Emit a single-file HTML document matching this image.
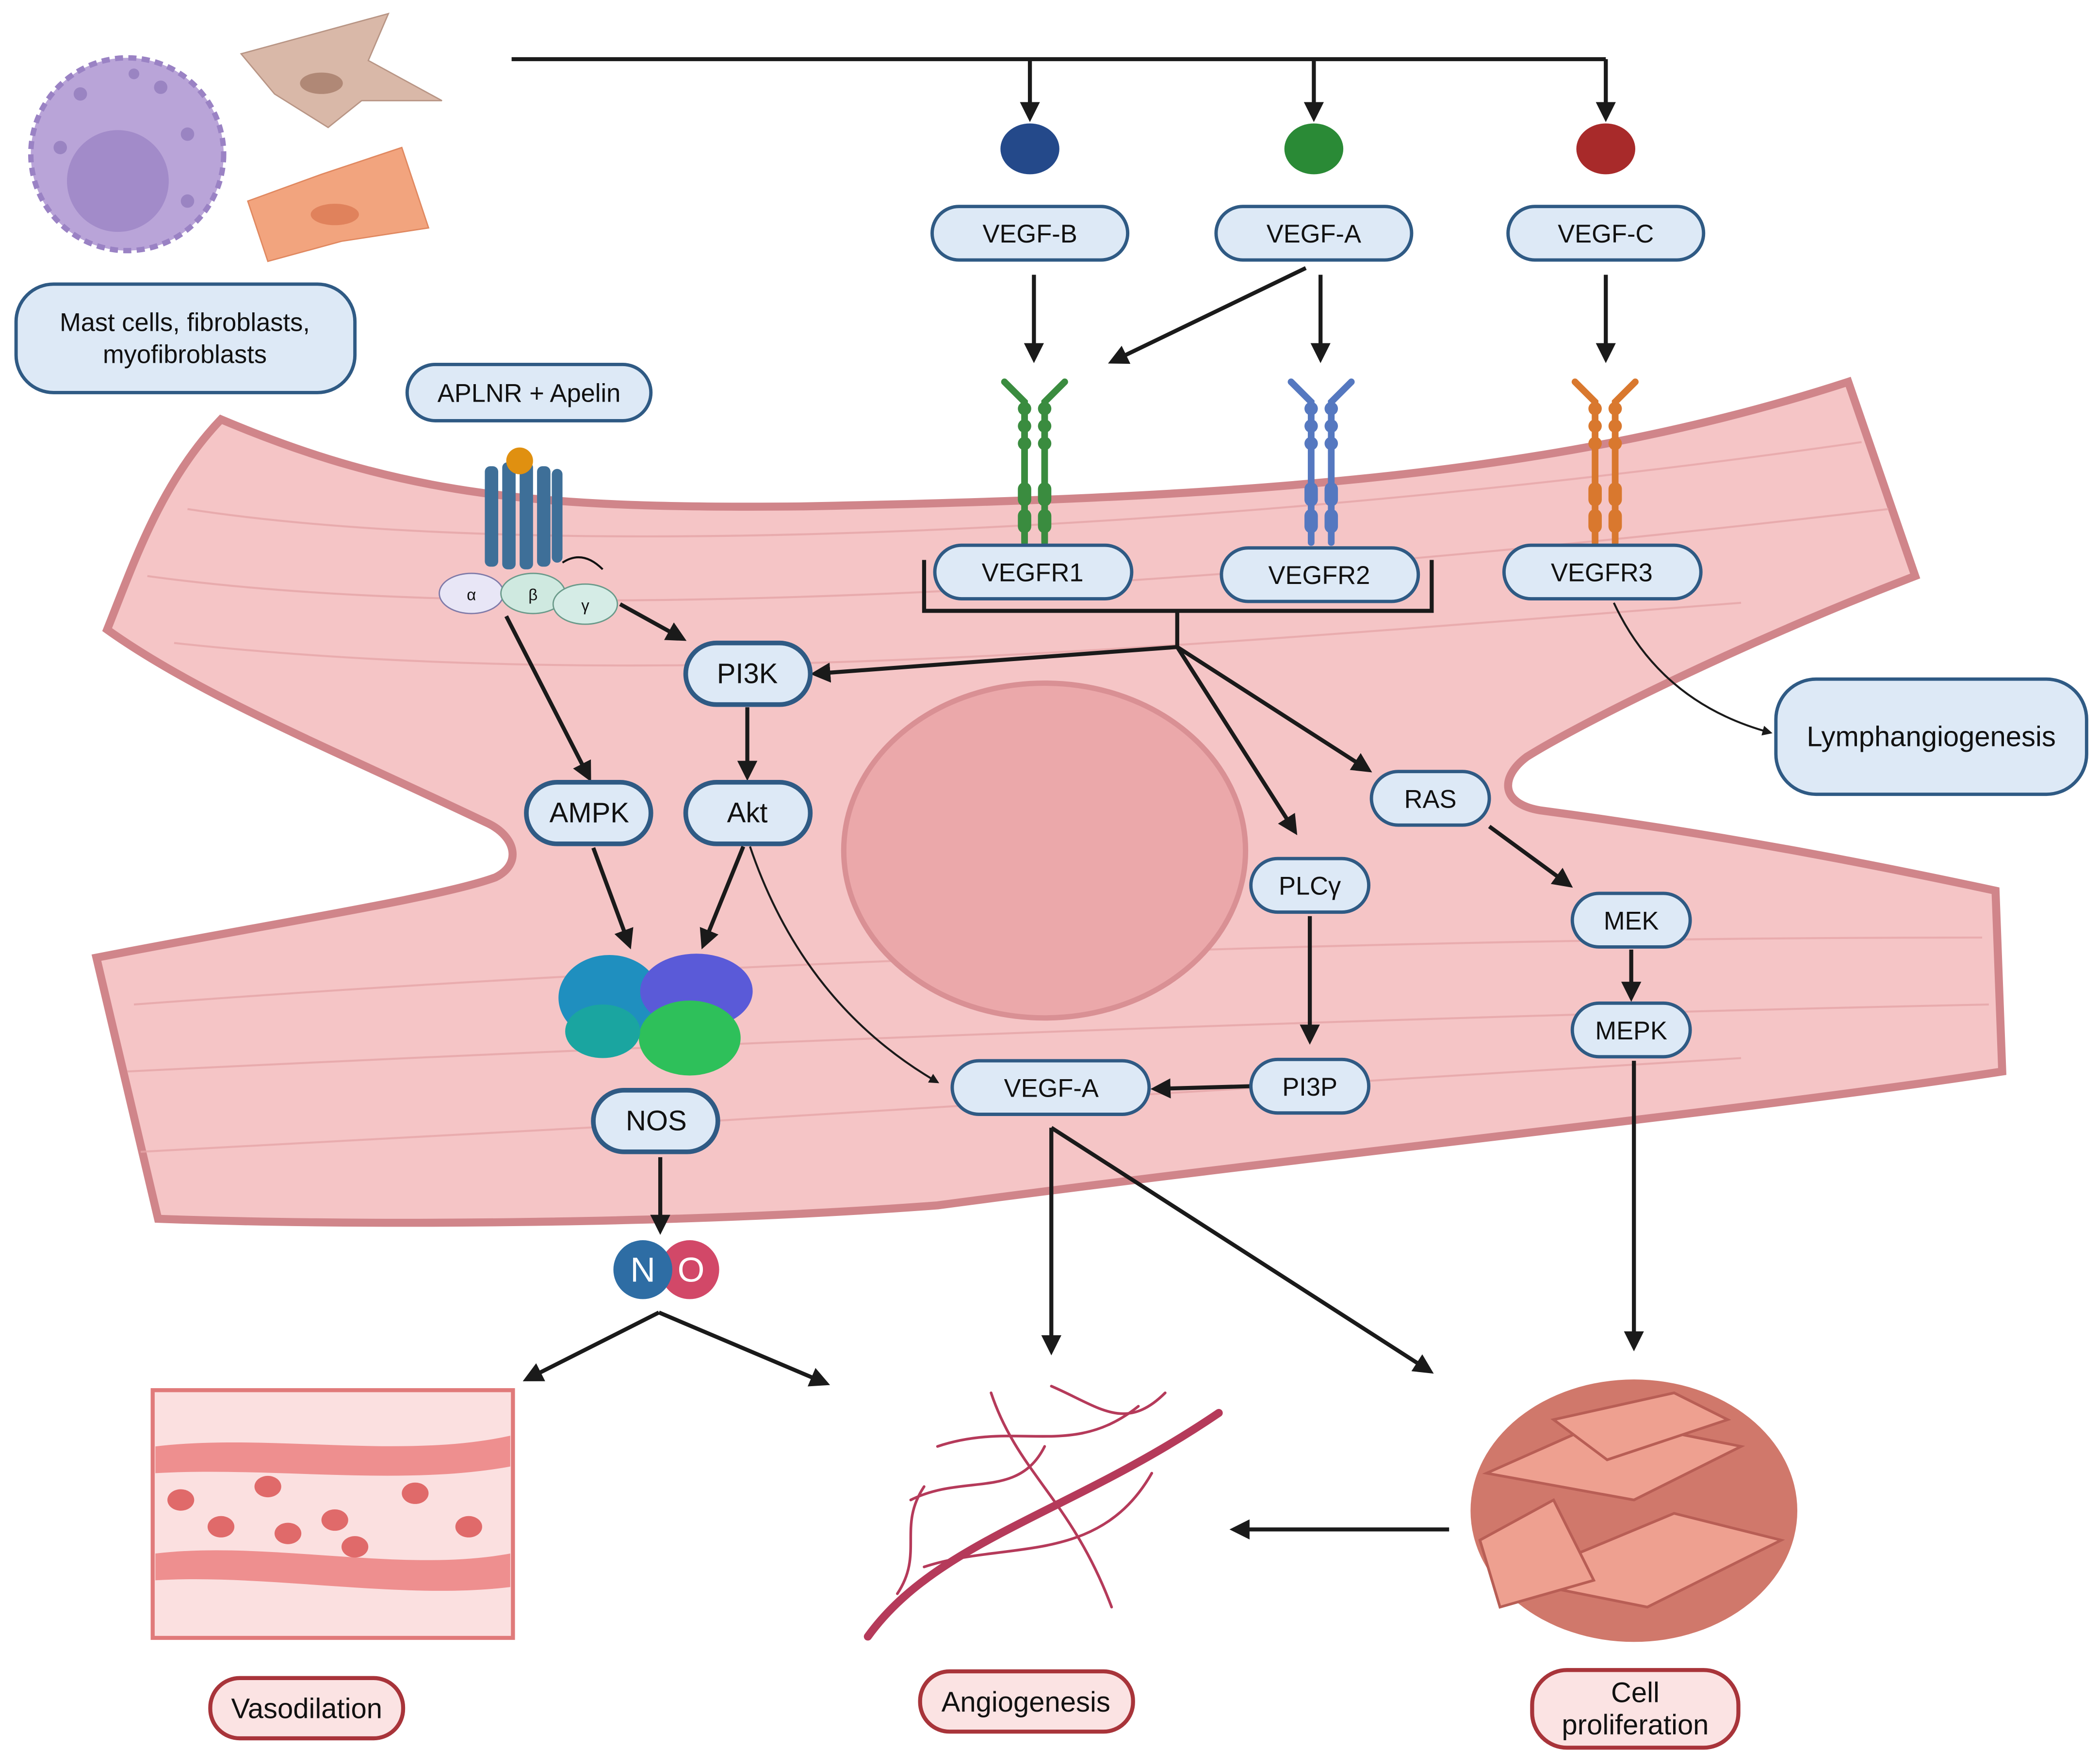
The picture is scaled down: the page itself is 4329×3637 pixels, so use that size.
<!DOCTYPE html>
<html><head><meta charset="utf-8"><style>html,body{margin:0;padding:0;background:#fff}svg{display:block}text{font-family:"Liberation Sans",sans-serif;fill:#111}</style></head><body>
<svg width="4329" height="3637" viewBox="0 0 1568 1317" xmlns="http://www.w3.org/2000/svg">
<defs>
<marker id="a" viewBox="0 0 10 10" refX="8" refY="5" markerWidth="5" markerHeight="5" orient="auto"><path d="M0,0L10,5L0,10z" fill="#1a1a1a"/></marker>
</defs>
<path d="M165,313 C300,370 400,380 600,378 C900,372 1150,360 1380,285 L1430,430 C1300,480 1180,540 1140,565 C1120,580 1120,600 1150,605 C1300,625 1420,650 1490,665 L1495,800 C1300,830 1000,860 700,900 C500,915 250,915 118,910 L72,715 C200,690 330,670 370,655 C390,645 385,625 365,615 C250,560 150,520 80,470 C100,420 120,360 165,313 Z" fill="#f5c5c6" stroke="#d0858a" stroke-width="6"/>
<g stroke="#e6a5a8" stroke-width="1.5" fill="none" opacity="0.8">
<path d="M140,380 C400,420 900,400 1390,330"/><path d="M110,430 C400,470 900,440 1410,380"/><path d="M130,480 C500,520 900,480 1300,450"/><path d="M100,750 C500,720 1000,700 1480,700"/><path d="M95,800 C500,780 1000,760 1485,750"/><path d="M105,860 C500,840 1000,810 1300,790"/>
</g>
<ellipse cx="780" cy="635" rx="150" ry="125" fill="#eba8aa" stroke="#d99094" stroke-width="4"/>
<circle cx="95" cy="115" r="72" fill="#b9a4d8" stroke="#9a82c4" stroke-width="4" stroke-dasharray="6 4"/>
<circle cx="88" cy="135" r="38" fill="#a28bc9"/>
<g fill="#9a84c2"><circle cx="60" cy="70" r="5"/><circle cx="120" cy="65" r="5"/><circle cx="140" cy="100" r="5"/><circle cx="45" cy="110" r="5"/><circle cx="140" cy="150" r="5"/><circle cx="100" cy="55" r="4"/></g>
<path d="M180,40 L290,10 L275,45 L330,75 L270,75 L245,95 L205,70 Z" fill="#d9b8a8" stroke="#b89585"/>
<ellipse cx="240" cy="62" rx="16" ry="8" fill="#b08876"/>
<path d="M185,150 L240,130 L300,110 L320,170 L255,180 L200,195 Z" fill="#f2a47e" stroke="#e08860"/>
<ellipse cx="250" cy="160" rx="18" ry="8" fill="#e0825c"/>
<g stroke="#1a1a1a" stroke-width="3" fill="none">
<path d="M382,44 H1199"/>
<path d="M769,44 V88" marker-end="url(#a)"/><path d="M981,44 V88" marker-end="url(#a)"/><path d="M1199,44 V88" marker-end="url(#a)"/>
<path d="M772,205 V268" marker-end="url(#a)"/><path d="M986,205 V268" marker-end="url(#a)"/><path d="M1199,205 V268" marker-end="url(#a)"/>
<path d="M975,200 L830,270" marker-end="url(#a)"/>
<path d="M690,418 V456 H1069 V418"/><path d="M879,456 V483"/>
<path d="M879,483 L608,503" marker-end="url(#a)"/><path d="M879,483 L1022,575" marker-end="url(#a)"/><path d="M879,483 L967,621" marker-end="url(#a)"/>
<path d="M463,451 L510,477" marker-end="url(#a)"/><path d="M378,460 L440,581" marker-end="url(#a)"/>
<path d="M558,528 V580" marker-end="url(#a)"/><path d="M443,633 L470,706" marker-end="url(#a)"/><path d="M555,632 L525,706" marker-end="url(#a)"/>
<path d="M978,684 V777" marker-end="url(#a)"/><path d="M934,811 L862,813" marker-end="url(#a)"/>
<path d="M1112,617 L1172,661" marker-end="url(#a)"/><path d="M1218,709 V745" marker-end="url(#a)"/>
<path d="M1220,792 V1006" marker-end="url(#a)"/><path d="M785,842 V1009" marker-end="url(#a)"/><path d="M785,842 L1068,1024" marker-end="url(#a)"/>
<path d="M493,864 V919" marker-end="url(#a)"/><path d="M492,980 L393,1030" marker-end="url(#a)"/><path d="M492,980 L617,1033" marker-end="url(#a)"/>
<path d="M1082,1142 H921" marker-end="url(#a)"/>
</g>
<g stroke="#1a1a1a" stroke-width="1.5" fill="none">
<path d="M560,632 Q600,750 700,808" marker-end="url(#a)"/>
<path d="M1205,450 Q1240,525 1322,547" marker-end="url(#a)"/>
</g>
<ellipse cx="769" cy="111" rx="22" ry="19" fill="#24498a"/><ellipse cx="981" cy="111" rx="22" ry="19" fill="#2a8a36"/><ellipse cx="1199" cy="111" rx="22" ry="19" fill="#a82a2a"/>
<g stroke-width="5" fill="none" stroke-linecap="round">
<path d="M765,405 V300 L750,285 M780,405 V300 L795,285" stroke="#3a8c3f"/>
<path d="M979,405 V300 L964,285 M994,405 V300 L1009,285" stroke="#5578c0"/>
<path d="M1191,405 V300 L1176,285 M1206,405 V300 L1221,285" stroke="#d9782e"/>
</g>
<g fill="#3a8c3f"><circle cx="765" cy="305" r="5"/><circle cx="765" cy="318" r="5"/><circle cx="765" cy="331" r="5"/><circle cx="780" cy="305" r="5"/><circle cx="780" cy="318" r="5"/><circle cx="780" cy="331" r="5"/><rect x="760" y="360" width="10" height="18" rx="5"/><rect x="775" y="360" width="10" height="18" rx="5"/><rect x="760" y="380" width="10" height="18" rx="5"/><rect x="775" y="380" width="10" height="18" rx="5"/></g>
<g fill="#5578c0"><circle cx="979" cy="305" r="5"/><circle cx="979" cy="318" r="5"/><circle cx="979" cy="331" r="5"/><circle cx="994" cy="305" r="5"/><circle cx="994" cy="318" r="5"/><circle cx="994" cy="331" r="5"/><rect x="974" y="360" width="10" height="18" rx="5"/><rect x="989" y="360" width="10" height="18" rx="5"/><rect x="974" y="380" width="10" height="18" rx="5"/><rect x="989" y="380" width="10" height="18" rx="5"/></g>
<g fill="#d9782e"><circle cx="1191" cy="305" r="5"/><circle cx="1191" cy="318" r="5"/><circle cx="1191" cy="331" r="5"/><circle cx="1206" cy="305" r="5"/><circle cx="1206" cy="318" r="5"/><circle cx="1206" cy="331" r="5"/><rect x="1186" y="360" width="10" height="18" rx="5"/><rect x="1201" y="360" width="10" height="18" rx="5"/><rect x="1186" y="380" width="10" height="18" rx="5"/><rect x="1201" y="380" width="10" height="18" rx="5"/></g>
<g fill="#3e6f98"><rect x="362" y="348" width="10" height="75" rx="4"/><rect x="375" y="345" width="10" height="80" rx="4"/><rect x="388" y="345" width="10" height="80" rx="4"/><rect x="401" y="348" width="10" height="75" rx="4"/><rect x="412" y="350" width="8" height="70" rx="4"/></g>
<circle cx="388" cy="344" r="10" fill="#e09010"/>
<path d="M420,420 Q435,410 450,425" stroke="#111" fill="none" stroke-width="1.5"/>
<ellipse cx="352" cy="443" rx="24" ry="15" fill="#e8e6f6" stroke="#7f7aa8"/>
<ellipse cx="398" cy="443" rx="24" ry="15" fill="#cfe9e0" stroke="#6a9a8a"/>
<ellipse cx="437" cy="451" rx="24" ry="15" fill="#d5ece6" stroke="#6a9a8a"/>
<text x="352" y="448" font-size="12" text-anchor="middle">α</text><text x="398" y="448" font-size="12" text-anchor="middle">β</text><text x="437" y="456" font-size="12" text-anchor="middle">γ</text>
<g><ellipse cx="455" cy="745" rx="38" ry="32" fill="#1f8fbf"/><ellipse cx="520" cy="740" rx="42" ry="28" fill="#5a5ad8"/><ellipse cx="515" cy="775" rx="38" ry="28" fill="#2ec05a"/><ellipse cx="450" cy="770" rx="28" ry="20" fill="#1aa5a0"/></g>
<circle cx="515" cy="948" r="22" fill="#d24868"/><circle cx="480" cy="948" r="22" fill="#2e6da4"/>
<text x="480" y="957" font-size="26" text-anchor="middle" style="fill:#fff">N</text><text x="516" y="957" font-size="26" text-anchor="middle" style="fill:#fff">O</text>
<rect x="114" y="1038" width="269" height="185" fill="#fbe0e0" stroke="#e07a7a" stroke-width="3"/>
<path d="M116,1080 C200,1070 300,1090 381,1072 V1095 C300,1110 200,1095 116,1100Z" fill="#ee8f8f"/>
<path d="M116,1160 C200,1150 300,1175 381,1160 V1185 C300,1195 200,1175 116,1180Z" fill="#ee8f8f"/>
<g fill="#e06a6a"><ellipse cx="135" cy="1120" rx="10" ry="8"/><ellipse cx="200" cy="1110" rx="10" ry="8"/><ellipse cx="250" cy="1135" rx="10" ry="8"/><ellipse cx="310" cy="1115" rx="10" ry="8"/><ellipse cx="165" cy="1140" rx="10" ry="8"/><ellipse cx="265" cy="1155" rx="10" ry="8"/><ellipse cx="350" cy="1140" rx="10" ry="8"/><ellipse cx="215" cy="1145" rx="10" ry="8"/></g>
<g fill="none" stroke="#b53a5a" stroke-linecap="round">
<path d="M648,1222 C700,1150 800,1130 910,1055" stroke-width="6"/>
<path d="M690,1170 C750,1150 820,1170 860,1100" stroke-width="2"/>
<path d="M700,1080 C760,1060 800,1090 850,1050" stroke-width="2"/>
<path d="M740,1040 C760,1100 800,1120 830,1200" stroke-width="2"/>
<path d="M680,1120 C720,1100 760,1120 780,1080" stroke-width="2"/>
<path d="M785,1035 C820,1050 840,1070 870,1040" stroke-width="2"/>
<path d="M690,1110 C670,1140 690,1160 670,1190" stroke-width="2"/>
</g>
<ellipse cx="1220" cy="1128" rx="122" ry="98" fill="#d0786b"/>
<g fill="#eea090" stroke="#b85e55" stroke-width="2"><path d="M1110,1100 L1200,1060 L1300,1080 L1220,1120Z"/><path d="M1130,1180 L1250,1130 L1330,1150 L1230,1200Z"/><path d="M1160,1060 L1250,1040 L1290,1060 L1200,1090Z"/><path d="M1105,1150 L1160,1120 L1190,1180 L1120,1200Z"/></g>
<g fill="#dde9f6" stroke="#2f5a84" stroke-width="2.5">
<rect x="12" y="212" width="253" height="81" rx="28"/>
<rect x="304" y="272" width="182" height="42" rx="21"/>
<rect x="696" y="154" width="146" height="40" rx="20"/><rect x="908" y="154" width="146" height="40" rx="20"/><rect x="1126" y="154" width="146" height="40" rx="20"/>
<rect x="698" y="407" width="147" height="40" rx="20"/><rect x="912" y="409" width="147" height="40" rx="20"/><rect x="1123" y="407" width="147" height="40" rx="20"/>
<rect x="1326" y="507" width="232" height="86" rx="30"/>
<rect x="1024" y="576" width="88" height="40" rx="20"/><rect x="934" y="641" width="88" height="40" rx="20"/><rect x="1174" y="667" width="88" height="40" rx="20"/><rect x="1174" y="749" width="88" height="40" rx="20"/><rect x="934" y="791" width="88" height="40" rx="20"/><rect x="711" y="792" width="147" height="40" rx="20"/>
</g>
<g fill="#dde9f6" stroke="#2f5a84" stroke-width="3.5">
<rect x="512" y="480" width="93" height="46" rx="23"/><rect x="393" y="584" width="93" height="46" rx="23"/><rect x="512" y="584" width="93" height="46" rx="23"/><rect x="443" y="814" width="93" height="46" rx="23"/>
</g>
<g fill="#fbe3e3" stroke="#a8343a" stroke-width="3">
<rect x="157" y="1253" width="144" height="45" rx="22"/><rect x="687" y="1248" width="159" height="45" rx="22"/><rect x="1144" y="1247" width="154" height="58" rx="26"/>
</g>
<g font-size="19" text-anchor="middle">
<text x="138" y="247">Mast cells, fibroblasts,</text><text x="138" y="271">myofibroblasts</text>
<text x="395" y="300">APLNR + Apelin</text>
<text x="769" y="181">VEGF-B</text><text x="981" y="181">VEGF-A</text><text x="1199" y="181">VEGF-C</text>
<text x="771" y="434">VEGFR1</text><text x="985" y="436">VEGFR2</text><text x="1196" y="434">VEGFR3</text>
<text x="1442" y="557" font-size="21">Lymphangiogenesis</text>
<text x="558" y="510" font-size="21">PI3K</text><text x="440" y="614" font-size="21">AMPK</text><text x="558" y="614" font-size="21">Akt</text><text x="490" y="844" font-size="21">NOS</text>
<text x="1068" y="603">RAS</text><text x="978" y="668">PLCγ</text><text x="1218" y="694">MEK</text><text x="1218" y="776">MEPK</text><text x="978" y="818">PI3P</text><text x="785" y="819">VEGF-A</text>
<text x="229" y="1283" font-size="21">Vasodilation</text><text x="766" y="1278" font-size="21">Angiogenesis</text>
<text x="1221" y="1271" font-size="21">Cell</text><text x="1221" y="1295" font-size="21">proliferation</text>
</g>
</svg>
</body></html>
